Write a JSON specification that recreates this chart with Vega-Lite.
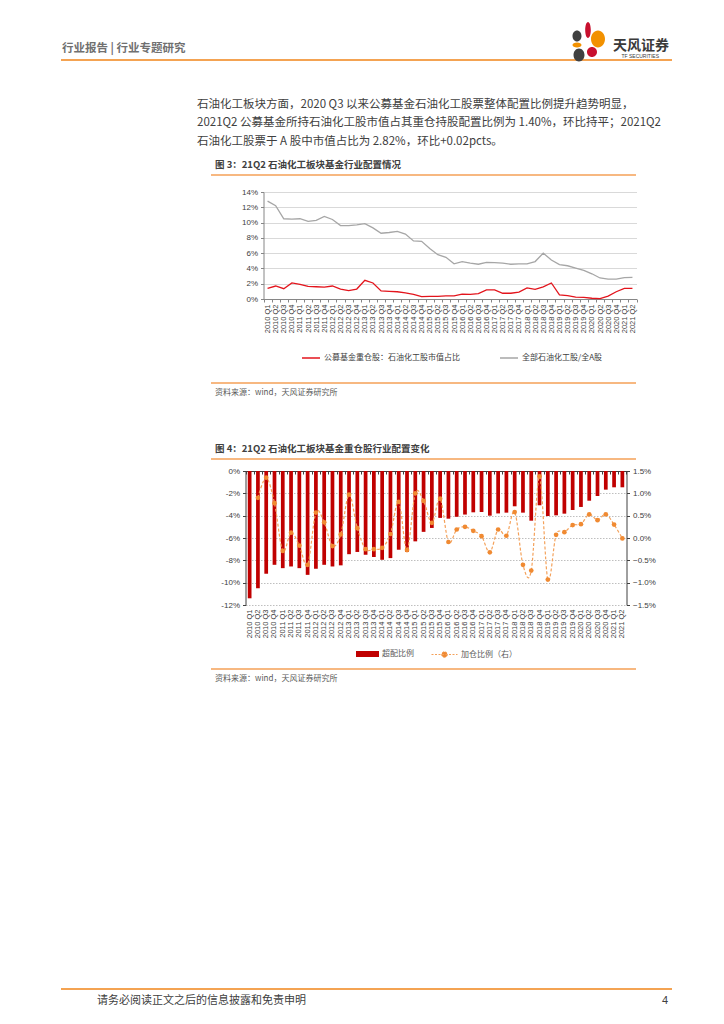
{
  "$schema": "https://vega.github.io/schema/vega-lite/v6.json",
  "background": "white",
  "padding": {"left": 57, "top": 0, "right": 0, "bottom": 0},
  "bounds": "flush",
  "spacing": 0,
  "config": {
    "view": {"stroke": null},
    "font": "Noto Sans CJK SC",
    "axis": {"labelFont": "Liberation Sans", "labelColor": "#404040"},
    "legend": {"padding": 0, "labelFont": "Noto Sans CJK SC"}
  },
  "vconcat": [
    {
      "width": 611,
      "height": 60,
      "data": {"values": [{}]},
      "title": {
        "text": [
          "石油化工板块方面，2020  Q3  以来公募基金石油化工股票整体配置比例提升趋势明显，",
          "2021Q2 公募基金所持石油化工股市值占其重仓持股配置比例为 1.40%，环比持平；2021Q2",
          "石油化工股票于 A 股中市值占比为 2.82%，环比+0.02pcts。"
        ],
        "orient": "bottom",
        "anchor": "start",
        "frame": "group",
        "dx": 136,
        "offset": 37,
        "fontSize": 11.5,
        "fontWeight": "normal",
        "color": "#404040",
        "lineHeight": 18.5
      },
      "layer": [
        {
          "mark": {"type": "rule", "color": "#F08519", "strokeWidth": 1.5},
          "encoding": {"y": {"value": "height"}}
        },
        {
          "mark": {"type": "text", "align": "left", "baseline": "alphabetic", "dy": -7.6, "fontSize": 11.5, "fontWeight": "bold", "color": "#707070"},
          "encoding": {"x": {"value": 1}, "y": {"value": "height"}, "text": {"value": "行业报告 | 行业专题研究"}}
        },
        {
          "mark": {"type": "text", "align": "right", "baseline": "alphabetic", "dx": -3, "dy": -10.5, "fontSize": 14, "fontWeight": "bold", "color": "#3A3A3A"},
          "encoding": {"x": {"value": "width"}, "y": {"value": "height"}, "text": {"value": "天风证券"}}
        },
        {
          "mark": {"type": "text", "align": "right", "baseline": "alphabetic", "dx": -13, "dy": -2, "fontSize": 5, "font": "Liberation Sans", "color": "#3A3A3A"},
          "encoding": {"x": {"value": "width"}, "y": {"value": "height"}, "text": {"value": "TF SECURITIES"}}
        },
        {
          "mark": {"type": "point", "filled": true, "opacity": 1, "size": 4, "strokeWidth": 0, "color": "#404040",
            "shape": "M-99.5,-24A4.5,5.5 0 1,0 -90.5,-24A4.5,5.5 0 1,0 -99.5,-24ZM-98.5,-5A5.5,6.5 0 1,0 -87.5,-5A5.5,6.5 0 1,0 -98.5,-5Z"},
          "encoding": {"x": {"value": "width"}, "y": {"value": "height"}}
        },
        {
          "mark": {"type": "point", "filled": true, "opacity": 1, "size": 4, "strokeWidth": 0, "color": "#C8102E",
            "shape": "M-86.8,-30A2.8,8 0 1,0 -81.2,-30A2.8,8 0 1,0 -86.8,-30ZM-85,-8A5,5 0 1,0 -75,-8A5,5 0 1,0 -85,-8Z"},
          "encoding": {"x": {"value": "width"}, "y": {"value": "height"}}
        },
        {
          "mark": {"type": "point", "filled": true, "opacity": 1, "size": 4, "strokeWidth": 0, "color": "#F29100",
            "shape": "M-81,-21A7,8.5 0 1,0 -67,-21A7,8.5 0 1,0 -81,-21ZM-99.5,-15A4.5,2.5 0 1,0 -90.5,-15A4.5,2.5 0 1,0 -99.5,-15Z"},
          "encoding": {"x": {"value": "width"}, "y": {"value": "height"}}
        }
      ]
    },
    {
      "width": 611,
      "height": 115,
      "data": {"values": [{}]},
      "mark": "text",
      "encoding": {"text": {"value": ""}}
    },
    {
      "width": 611,
      "height": 17,
      "data": {"values": [{}]},
      "title": {"text": "图 3：21Q2 石油化工板块基金行业配置情况", "orient": "top", "anchor": "start", "frame": "group", "dx": 154, "offset": 5, "fontSize": 9.5, "fontWeight": "bold", "color": "#404040"},
      "mark": {"type": "rule", "color": "#F5A057", "strokeWidth": 1.5},
      "encoding": {
        "x": {"datum": 0, "type": "quantitative", "scale": {"domain": [0, 1], "range": [150, 575]}, "axis": null},
        "x2": {"datum": 1},
        "y": {"value": 0}
      }
    },
    {
      "width": 575.5,
      "height": 107,
      "data": {"values": [
        {"q": "2010 Q1", "fund": 1.4, "all": 12.8},
        {"q": "2010 Q2", "fund": 1.7, "all": 12.2},
        {"q": "2010 Q3", "fund": 1.35, "all": 10.5},
        {"q": "2010 Q4", "fund": 2.1, "all": 10.45},
        {"q": "2011 Q1", "fund": 1.9, "all": 10.5},
        {"q": "2011 Q2", "fund": 1.65, "all": 10.15},
        {"q": "2011 Q3", "fund": 1.6, "all": 10.3},
        {"q": "2011 Q4", "fund": 1.55, "all": 10.8},
        {"q": "2012 Q1", "fund": 1.7, "all": 10.4},
        {"q": "2012 Q2", "fund": 1.3, "all": 9.6},
        {"q": "2012 Q3", "fund": 1.1, "all": 9.6},
        {"q": "2012 Q4", "fund": 1.3, "all": 9.7},
        {"q": "2013 Q1", "fund": 2.45, "all": 9.85},
        {"q": "2013 Q2", "fund": 2.1, "all": 9.3},
        {"q": "2013 Q3", "fund": 1.05, "all": 8.6},
        {"q": "2013 Q4", "fund": 1.0, "all": 8.7},
        {"q": "2014 Q1", "fund": 0.95, "all": 8.85},
        {"q": "2014 Q2", "fund": 0.8, "all": 8.5},
        {"q": "2014 Q3", "fund": 0.6, "all": 7.6},
        {"q": "2014 Q4", "fund": 0.3, "all": 7.55},
        {"q": "2015 Q1", "fund": 0.35, "all": 6.6},
        {"q": "2015 Q2", "fund": 0.35, "all": 5.8},
        {"q": "2015 Q3", "fund": 0.4, "all": 5.45},
        {"q": "2015 Q4", "fund": 0.4, "all": 4.6},
        {"q": "2016 Q1", "fund": 0.65, "all": 4.9},
        {"q": "2016 Q2", "fund": 0.6, "all": 4.7},
        {"q": "2016 Q3", "fund": 0.7, "all": 4.55},
        {"q": "2016 Q4", "fund": 1.2, "all": 4.8},
        {"q": "2017 Q1", "fund": 1.2, "all": 4.75},
        {"q": "2017 Q2", "fund": 0.75, "all": 4.7},
        {"q": "2017 Q3", "fund": 0.75, "all": 4.55},
        {"q": "2017 Q4", "fund": 0.9, "all": 4.6},
        {"q": "2018 Q1", "fund": 1.45, "all": 4.6},
        {"q": "2018 Q2", "fund": 1.25, "all": 4.9},
        {"q": "2018 Q3", "fund": 1.6, "all": 6.0},
        {"q": "2018 Q4", "fund": 2.1, "all": 5.1},
        {"q": "2019 Q1", "fund": 0.55, "all": 4.5},
        {"q": "2019 Q2", "fund": 0.45, "all": 4.35},
        {"q": "2019 Q3", "fund": 0.25, "all": 4.05},
        {"q": "2019 Q4", "fund": 0.22, "all": 3.75},
        {"q": "2020 Q1", "fund": 0.1, "all": 3.3},
        {"q": "2020 Q2", "fund": 0.06, "all": 2.75},
        {"q": "2020 Q3", "fund": 0.37, "all": 2.6},
        {"q": "2020 Q4", "fund": 0.95, "all": 2.6},
        {"q": "2021 Q1", "fund": 1.4, "all": 2.8},
        {"q": "2021 Q2", "fund": 1.4, "all": 2.82}
      ]},
      "transform": [{"fold": ["fund", "all"], "as": ["s", "v"]}],
      "mark": {"type": "line", "strokeWidth": 1.3},
      "encoding": {
        "x": {
          "field": "q", "type": "ordinal", "sort": null,
          "scale": {"type": "band", "range": [202.5, 575.5], "paddingInner": 0, "paddingOuter": 0},
          "axis": {"title": null, "labelAngle": -90, "labelAlign": "right", "labelBaseline": "middle", "labelFontSize": 7.5, "labelPadding": 2, "labelOverlap": false, "domainColor": "#868686", "tickColor": "#868686", "tickSize": 3, "tickBand": "extent"}
        },
        "y": {
          "field": "v", "type": "quantitative",
          "scale": {"domain": [0, 14], "nice": false},
          "axis": {"title": null, "values": [0, 2, 4, 6, 8, 10, 12, 14], "labelExpr": "datum.value + '%'", "offset": -202.5, "grid": true, "gridColor": "#D9D9D9", "domainColor": "#868686", "tickColor": "#868686", "tickSize": 3, "labelFontSize": 8, "labelPadding": 3}
        },
        "color": {
          "field": "s", "type": "nominal", "sort": ["fund", "all"],
          "scale": {"domain": ["fund", "all"], "range": ["#E3141C", "#A6A6A6"]},
          "legend": {"orient": "none", "legendX": 240, "legendY": 348, "direction": "horizontal", "title": null, "symbolType": "stroke", "symbolSize": 324, "symbolStrokeWidth": 1.5, "labelFontSize": 8, "labelColor": "#404040", "labelOffset": 3, "columnPadding": 37, "labelLimit": 300,
            "labelExpr": "datum.value == 'fund' ? '公募基金重仓股：石油化工股市值占比' : '全部石油化工股/全A股'"}
        }
      }
    },
    {
      "width": 611,
      "height": 84,
      "data": {"values": [{}]},
      "title": {"text": "资料来源：wind，天风证券研究所", "orient": "bottom", "anchor": "start", "frame": "group", "dx": 154, "offset": 5, "fontSize": 8, "fontWeight": "normal", "color": "#595959"},
      "mark": {"type": "rule", "color": "#F5A057", "strokeWidth": 1.5},
      "encoding": {
        "x": {"datum": 0, "type": "quantitative", "scale": {"domain": [0, 1], "range": [150, 575]}, "axis": null},
        "x2": {"datum": 1},
        "y": {"value": "height"}
      }
    },
    {
      "width": 611,
      "height": 76,
      "data": {"values": [{}]},
      "mark": "text",
      "encoding": {"text": {"value": ""}}
    },
    {
      "width": 611,
      "height": 12,
      "data": {"values": [{}]},
      "title": {"text": "图 4：21Q2 石油化工板块基金重仓股行业配置变化", "orient": "top", "anchor": "start", "frame": "group", "dx": 154, "offset": 5, "fontSize": 9.5, "fontWeight": "bold", "color": "#404040"},
      "mark": {"type": "rule", "color": "#F5A057", "strokeWidth": 1.5},
      "encoding": {
        "x": {"datum": 0, "type": "quantitative", "scale": {"domain": [0, 1], "range": [150, 575]}, "axis": null},
        "x2": {"datum": 1},
        "y": {"value": 0}
      }
    },
    {
      "width": 565.5,
      "height": 134,
      "data": {"values": [
        {"q": "2010 Q1", "over": -11.4, "add": null},
        {"q": "2010 Q2", "over": -10.5, "add": 0.9},
        {"q": "2010 Q3", "over": -9.2, "add": 1.35},
        {"q": "2010 Q4", "over": -8.4, "add": 0.78},
        {"q": "2011 Q1", "over": -8.7, "add": -0.29},
        {"q": "2011 Q2", "over": -8.55, "add": 0.12},
        {"q": "2011 Q3", "over": -8.7, "add": -0.17},
        {"q": "2011 Q4", "over": -9.3, "add": -0.6},
        {"q": "2012 Q1", "over": -8.75, "add": 0.57},
        {"q": "2012 Q2", "over": -8.4, "add": 0.35},
        {"q": "2012 Q3", "over": -8.55, "add": -0.18},
        {"q": "2012 Q4", "over": -8.45, "add": 0.08},
        {"q": "2013 Q1", "over": -7.45, "add": 0.97},
        {"q": "2013 Q2", "over": -7.25, "add": 0.22},
        {"q": "2013 Q3", "over": -7.5, "add": -0.25},
        {"q": "2013 Q4", "over": -7.7, "add": -0.25},
        {"q": "2014 Q1", "over": -7.95, "add": -0.22},
        {"q": "2014 Q2", "over": -7.8, "add": 0.09},
        {"q": "2014 Q3", "over": -7.05, "add": 0.81},
        {"q": "2014 Q4", "over": -7.25, "add": -0.27},
        {"q": "2015 Q1", "over": -6.3, "add": 1.0},
        {"q": "2015 Q2", "over": -5.45, "add": 0.83},
        {"q": "2015 Q3", "over": -5.1, "add": 0.34},
        {"q": "2015 Q4", "over": -4.2, "add": 0.88},
        {"q": "2016 Q1", "over": -4.27, "add": -0.09},
        {"q": "2016 Q2", "over": -4.1, "add": 0.19},
        {"q": "2016 Q3", "over": -3.9, "add": 0.25},
        {"q": "2016 Q4", "over": -3.7, "add": 0.16},
        {"q": "2017 Q1", "over": -3.67, "add": 0.04},
        {"q": "2017 Q2", "over": -4.0, "add": -0.32},
        {"q": "2017 Q3", "over": -3.8, "add": 0.19},
        {"q": "2017 Q4", "over": -3.73, "add": 0.05},
        {"q": "2018 Q1", "over": -3.16, "add": 0.58},
        {"q": "2018 Q2", "over": -3.73, "add": -0.6},
        {"q": "2018 Q3", "over": -4.45, "add": -0.73},
        {"q": "2018 Q4", "over": -3.07, "add": 1.38},
        {"q": "2019 Q1", "over": -4.03, "add": -0.93},
        {"q": "2019 Q2", "over": -3.97, "add": 0.07},
        {"q": "2019 Q3", "over": -3.82, "add": 0.13},
        {"q": "2019 Q4", "over": -3.5, "add": 0.29},
        {"q": "2020 Q1", "over": -3.22, "add": 0.31},
        {"q": "2020 Q2", "over": -2.66, "add": 0.53},
        {"q": "2020 Q3", "over": -2.24, "add": 0.4},
        {"q": "2020 Q4", "over": -1.67, "add": 0.53},
        {"q": "2021 Q1", "over": -1.46, "add": 0.3},
        {"q": "2021 Q2", "over": -1.46, "add": -0.01}
      ]},
      "layer": [
        {
          "mark": {"type": "bar", "width": {"band": 0.45}},
          "encoding": {
            "x": {
              "field": "q", "type": "ordinal", "sort": null,
              "scale": {"type": "band", "range": [184.5, 565.5], "paddingInner": 0, "paddingOuter": 0},
              "axis": {"orient": "bottom", "title": null, "labelAngle": -90, "labelAlign": "right", "labelBaseline": "middle", "labelFontSize": 7.5, "labelPadding": 4, "labelOverlap": false, "domain": false, "ticks": false}
            },
            "y": {
              "field": "over", "type": "quantitative",
              "scale": {"domain": [-12, 0], "nice": false},
              "axis": {"orient": "left", "title": null, "values": [-12, -10, -8, -6, -4, -2, 0], "labelExpr": "datum.value + '%'", "offset": -184.5, "grid": true, "gridColor": "#BFBFBF", "gridDash": [1.5, 1.5], "domainColor": "#404040", "tickColor": "#404040", "tickSize": 3, "labelFontSize": 8, "labelPadding": 3}
            },
            "fill": {
              "datum": "超配比例",
              "scale": {"range": ["#C00000"]},
              "legend": {"orient": "none", "legendX": 295, "legendY": 642.5, "title": null, "symbolType": "M-1,-0.26H1V0.26H-1Z", "symbolSize": 529, "symbolStrokeWidth": 0, "labelFontSize": 8, "labelColor": "#595959", "labelOffset": 3}
            }
          }
        },
        {
          "mark": {"type": "line", "strokeDash": [3, 2], "strokeWidth": 1.2, "interpolate": "cardinal"},
          "encoding": {
            "x": {
              "field": "q", "type": "ordinal", "sort": null,
              "axis": {"orient": "top", "title": null, "labels": false, "domain": true, "domainColor": "#404040", "ticks": true, "tickColor": "#404040", "tickSize": -3, "tickBand": "extent"}
            },
            "y": {
              "field": "add", "type": "quantitative",
              "scale": {"domain": [-1.5, 1.5], "nice": false},
              "axis": {"orient": "right", "title": null, "values": [-1.5, -1, -0.5, 0, 0.5, 1, 1.5], "labelExpr": "format(datum.value, '.1f') + '%'", "grid": false, "domainColor": "#404040", "tickColor": "#404040", "tickSize": 3, "labelFontSize": 8, "labelPadding": 3}
            },
            "stroke": {
              "datum": "加仓比例（右）",
              "scale": {"range": ["#F4A15A"]},
              "legend": {"orient": "none", "legendX": 370, "legendY": 641, "title": null, "symbolType": "M-1,0H1M0.22,0A0.22,0.22 0 1,1 -0.22,0A0.22,0.22 0 1,1 0.22,0Z", "symbolSize": 676, "symbolStrokeWidth": 1, "symbolDash": [2, 1.5], "symbolFillColor": "#F08A32", "labelFontSize": 8, "labelColor": "#595959", "labelOffset": 3}
            }
          }
        },
        {
          "mark": {"type": "point", "filled": true, "opacity": 1, "size": 22, "color": "#F08A32"},
          "encoding": {
            "x": {"field": "q", "type": "ordinal", "sort": null, "axis": null},
            "y": {"field": "add", "type": "quantitative", "scale": {"domain": [-1.5, 1.5], "nice": false}, "axis": null}
          }
        }
      ],
      "resolve": {"scale": {"y": "independent"}}
    },
    {
      "width": 611,
      "height": 64,
      "data": {"values": [{}]},
      "title": {"text": "资料来源：wind，天风证券研究所", "orient": "bottom", "anchor": "start", "frame": "group", "dx": 154, "offset": 5, "fontSize": 8, "fontWeight": "normal", "color": "#595959"},
      "mark": {"type": "rule", "color": "#F5A057", "strokeWidth": 1.5},
      "encoding": {
        "x": {"datum": 0, "type": "quantitative", "scale": {"domain": [0, 1], "range": [150, 575]}, "axis": null},
        "x2": {"datum": 1},
        "y": {"value": "height"}
      }
    },
    {
      "width": 611,
      "height": 320,
      "data": {"values": [{}]},
      "layer": [
        {
          "mark": {"type": "rule", "color": "#F08519", "strokeWidth": 1.5},
          "encoding": {"y": {"value": "height"}}
        },
        {
          "mark": {"type": "text", "align": "left", "baseline": "alphabetic", "dy": 15, "fontSize": 11, "color": "#404040"},
          "encoding": {"x": {"value": 36}, "y": {"value": "height"}, "text": {"value": "请务必阅读正文之后的信息披露和免责申明"}}
        },
        {
          "mark": {"type": "text", "align": "right", "baseline": "alphabetic", "dx": -4, "dy": 15, "fontSize": 11, "font": "Liberation Sans", "color": "#404040"},
          "encoding": {"x": {"value": "width"}, "y": {"value": "height"}, "text": {"value": "4"}}
        }
      ]
    }
  ]
}
